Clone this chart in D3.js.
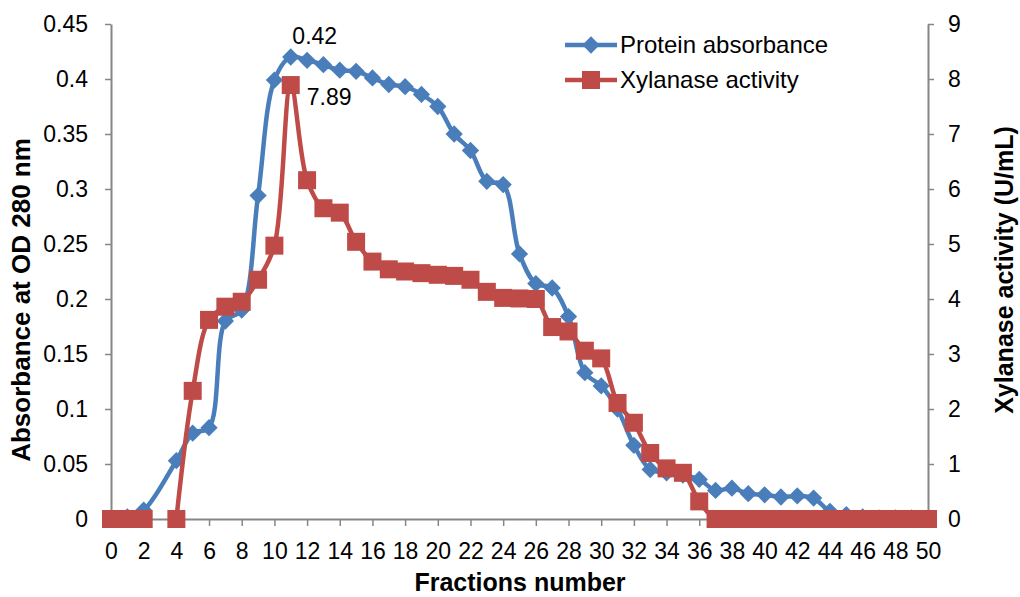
<!DOCTYPE html>
<html>
<head>
<meta charset="utf-8">
<script src="https://cdn.jsdelivr.net/npm/d3@7"></script>
<style>
  body { margin: 0; background: #fff; }
  svg text { font-family: "Liberation Sans", Arial, sans-serif; }
</style>
</head>
<body>
<script>
// fractions 0..50, fraction 3 was not measured
let fractions = d3.range(0, 51);
let protein = [0, 0.002, 0.008, null, 0.053, 0.078, 0.083, 0.18, 0.19, 0.294,
  0.399, 0.42, 0.417, 0.413, 0.408, 0.407, 0.401, 0.395, 0.393, 0.386,
  0.375, 0.35, 0.335, 0.307, 0.304, 0.241, 0.214, 0.21, 0.184, 0.133,
  0.121, 0.1, 0.067, 0.045, 0.042, 0.04, 0.036, 0.026, 0.028, 0.023,
  0.022, 0.02, 0.021, 0.019, 0.007, 0.004, 0.002, 0.001, 0.001, 0.001, 0];
let xylanase = [0, 0, 0, null, 0, 2.33, 3.62, 3.86, 3.95, 4.35,
  4.97, 7.89, 6.16, 5.65, 5.57, 5.04, 4.68, 4.54, 4.5, 4.47,
  4.44, 4.42, 4.35, 4.13, 4.02, 4.01, 4.0, 3.49, 3.41, 3.06,
  2.92, 2.11, 1.75, 1.2, 0.92, 0.84, 0.32, 0, 0, 0,
  0, 0, 0, 0, 0, 0, 0, 0, 0, 0, 0];
let leftTicks = [0, 0.05, 0.1, 0.15, 0.2, 0.25, 0.3, 0.35, 0.4, 0.45];
let rightTicks = [0, 1, 2, 3, 4, 5, 6, 7, 8, 9];
let xTicks = d3.range(0, 51, 2);
let seriesNames = ["Protein absorbance", "Xylanase activity"];

let blue = "#4A7EBB", red = "#BE4B48", axisGrey = "#868686";

let svg = d3.select("body").append("svg")
  .attr("width", 1020)
  .attr("height", 597);

let x = d3.scaleLinear().domain([0, 50]).range([111, 928]);
let yL = d3.scaleLinear().domain([0, 0.45]).range([519, 24]);
let yR = d3.scaleLinear().domain([0, 9]).range([519, 24]);

function styleAxis(g) {
  g.select(".domain").attr("stroke", axisGrey).attr("stroke-width", 2);
  g.selectAll(".tick line").attr("stroke", axisGrey).attr("stroke-width", 1.5);
  g.selectAll(".tick text").attr("fill", "#000").style("font-size", "23px");
}

svg.append("g")
  .attr("transform", "translate(111,0)")
  .call(d3.axisLeft(yL).tickValues(leftTicks).tickSize(6).tickSizeOuter(0).tickPadding(17)
    .tickFormat(d => +d.toFixed(2)))
  .call(styleAxis);

svg.append("g")
  .attr("transform", "translate(928,0)")
  .call(d3.axisRight(yR).tickValues(rightTicks).tickSize(6).tickSizeOuter(0).tickPadding(14))
  .call(styleAxis);

svg.append("g")
  .attr("transform", "translate(0,519)")
  .call(d3.axisBottom(x).tickValues(xTicks).tickSize(7).tickSizeOuter(0).tickPadding(17))
  .call(styleAxis);

// axis titles
svg.append("text")
  .attr("x", 520).attr("y", 591)
  .attr("text-anchor", "middle")
  .style("font-size", "25px").style("font-weight", "bold")
  .text("Fractions number");

svg.append("text")
  .attr("transform", "translate(30,300) rotate(-90)")
  .attr("text-anchor", "middle")
  .style("font-size", "26px").style("font-weight", "bold")
  .text("Absorbance at OD 280 nm");

svg.append("text")
  .attr("transform", "translate(1013,270) rotate(-90)")
  .attr("text-anchor", "middle")
  .style("font-size", "25px").style("font-weight", "bold")
  .text("Xylanase activity (U/mL)");

let proteinData = fractions.map((f, i) => ({ f: f, v: protein[i] })).filter(d => d.v != null);
let xylData = fractions.map((f, i) => ({ f: f, v: xylanase[i] }));

let diamond = d3.symbol().type(d3.symbolDiamond2).size(190);

// protein line and markers
svg.append("path")
  .datum(proteinData)
  .attr("fill", "none")
  .attr("stroke", blue)
  .attr("stroke-width", 4.5)
  .attr("d", d3.line().x(d => x(d.f)).y(d => yL(d.v)).curve(d3.curveCatmullRom.alpha(0.5)));

svg.append("g").selectAll("path")
  .data(proteinData)
  .enter()
  .append("path")
  .attr("transform", d => "translate(" + x(d.f) + "," + yL(d.v) + ")")
  .attr("d", diamond)
  .attr("fill", blue);

// xylanase line and markers
svg.append("path")
  .datum(xylData)
  .attr("fill", "none")
  .attr("stroke", red)
  .attr("stroke-width", 4.5)
  .attr("d", d3.line().defined(d => d.v != null).x(d => x(d.f)).y(d => yR(d.v))
    .curve(d3.curveCatmullRom.alpha(0.5)));

svg.append("g").selectAll("rect")
  .data(xylData.filter(d => d.v != null))
  .enter()
  .append("rect")
  .attr("x", d => x(d.f) - 9)
  .attr("y", d => yR(d.v) - 9)
  .attr("width", 18)
  .attr("height", 18)
  .attr("fill", red);

// peak labels
svg.append("text")
  .attr("x", x(11) + 24).attr("y", yL(0.42) - 13)
  .attr("text-anchor", "middle")
  .style("font-size", "23px")
  .text("0.42");

svg.append("text")
  .attr("x", x(11) + 16).attr("y", yR(7.89) + 20)
  .style("font-size", "23px")
  .text("7.89");

// legend
let legend = svg.append("g").attr("transform", "translate(565,45)");
let colors = [blue, red];
seriesNames.forEach(function (name, i) {
  let row = legend.append("g").attr("transform", "translate(0," + (i * 35) + ")");
  row.append("line")
    .attr("x1", 0).attr("x2", 52)
    .attr("stroke", colors[i]).attr("stroke-width", 4.5);
  if (i == 0) {
    row.append("path").attr("transform", "translate(26,0)").attr("d", diamond).attr("fill", blue);
  } else {
    row.append("rect").attr("x", 17).attr("y", -9).attr("width", 18).attr("height", 18).attr("fill", red);
  }
  row.append("text")
    .attr("x", 55).attr("y", 8)
    .style("font-size", "24px")
    .text(name);
});
</script>
</body>
</html>
